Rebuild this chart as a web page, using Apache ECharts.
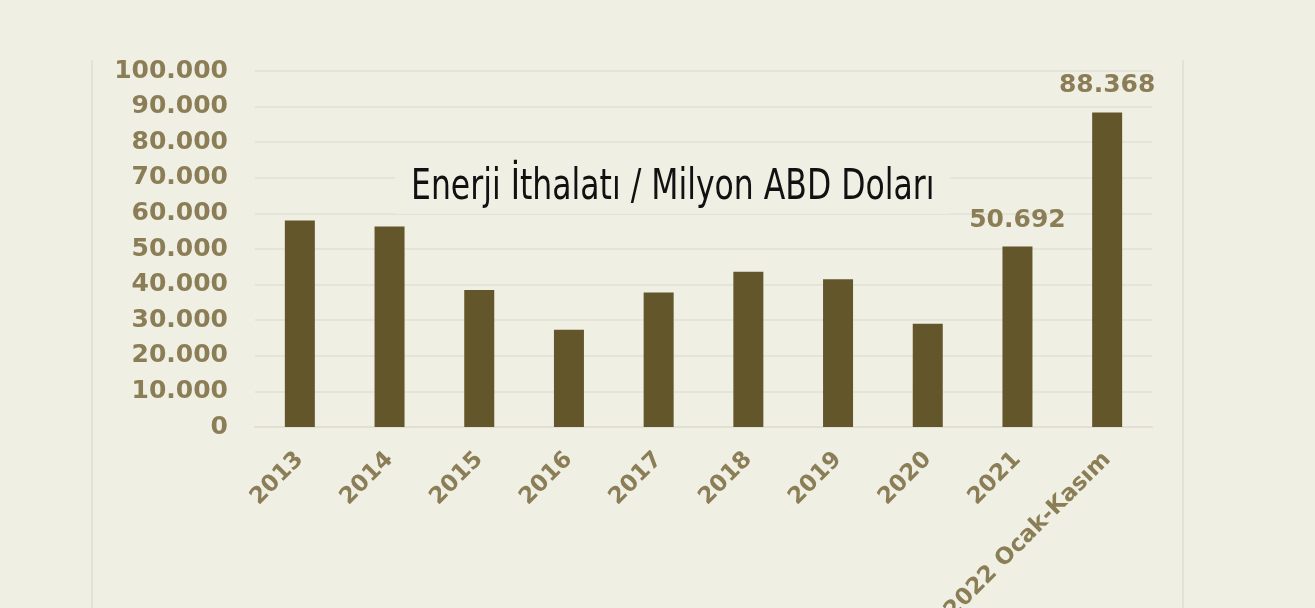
<!DOCTYPE html>
<html>
<head>
<meta charset="utf-8">
<script src="https://cdn.jsdelivr.net/npm/echarts@6/dist/echarts.min.js"></script>
<style>
  html, body { margin: 0; padding: 0; background: #efefe4; }
  #chart { width: 1315px; height: 608px; }
</style>
</head>
<body>
<div id="chart"></div>
<script>
// kategoriler (yıllar)
const categories = ['2013', '2014', '2015', '2016', '2017', '2018', '2019', '2020', '2021', '2022 Ocak-Kasım'];
// enerji ithalatı, milyon ABD doları
const imports = [58000, 56300, 38500, 27300, 37800, 43600, 41500, 29000, 50692, 88368];
// etiket gösterilecek sütunlar
const labelled = ['2021', '2022 Ocak-Kasım'];

const bgColor = '#efefe4';
const textColor = '#8b7d55';
const barColor = '#64562b';
const labelFont = 'DejaVu Sans';

function fmt(v) {
    return String(v).replace(/\B(?=(\d{3})+(?!\d))/g, '.');
}

const chart = echarts.init(document.getElementById('chart'));
chart.setOption({
    backgroundColor: bgColor,
    grid: {
        left: 255,
        right: 1315 - 1152,
        top: 71,
        bottom: 608 - 427,
        outerBoundsMode: 'none',
        containLabel: false
    },
    xAxis: {
        type: 'category',
        data: categories,
        axisLine: { lineStyle: { color: '#e2e0d2', width: 2 } },
        axisTick: { show: false },
        axisLabel: {
            interval: 0,
            rotate: 45,
            margin: 29,
            color: textColor,
            fontFamily: labelFont,
            fontWeight: 'bold',
            fontSize: 23
        }
    },
    yAxis: {
        type: 'value',
        min: 0,
        max: 100000,
        interval: 10000,
        axisLine: { show: false },
        axisTick: { show: false },
        axisLabel: {
            margin: 27,
            color: textColor,
            fontFamily: labelFont,
            fontWeight: 'bold',
            fontSize: 25,
            formatter: fmt
        },
        splitLine: { lineStyle: { color: '#e5e4d8', width: 2 } }
    },
    series: [{
        type: 'bar',
        data: imports.map((v, i) => ({
            value: v,
            label: { show: labelled.includes(categories[i]) }
        })),
        barWidth: 30,
        itemStyle: { color: barColor },
        label: {
            position: 'top',
            distance: 14,
            color: textColor,
            fontFamily: labelFont,
            fontWeight: 'bold',
            fontSize: 25,
            formatter: p => fmt(p.value)
        }
    }],
    graphic: [
        { type: 'line', shape: { x1: 92, y1: 60, x2: 92, y2: 608 }, style: { stroke: '#e3e2d6', lineWidth: 2 } },
        { type: 'line', shape: { x1: 1183, y1: 60, x2: 1183, y2: 608 }, style: { stroke: '#e3e2d6', lineWidth: 2 } },
        {
            // başlık: dar yazı tipi, dikeyde biraz uzatılmış; arkasındaki ızgara çizgisi gizlenir
            type: 'text',
            x: 395,
            y: 188,
            scaleY: 1.2,
            z: 100,
            style: {
                text: 'Enerji İthalatı / Milyon ABD Doları',
                font: '35px "DejaVu Sans Condensed"',
                fill: '#111',
                textVerticalAlign: 'middle',
                backgroundColor: bgColor,
                padding: [4, 16]
            }
        }
    ]
});
</script>
</body>
</html>
